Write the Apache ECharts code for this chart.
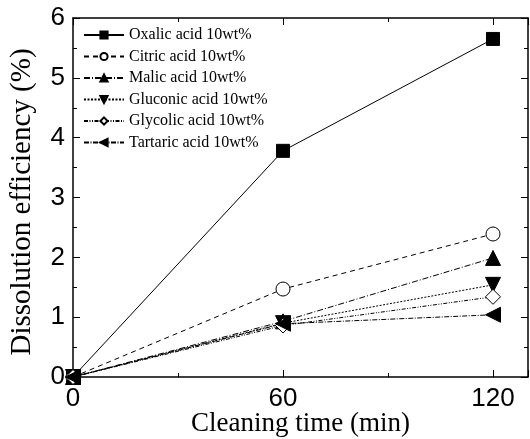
<!DOCTYPE html>
<html>
<head>
<meta charset="utf-8">
<script src="https://cdn.jsdelivr.net/npm/echarts@6/dist/echarts.min.js"></script>
<style>
  html, body { margin: 0; padding: 0; background: #fff; }
  #chart { width: 530px; height: 439px; }
</style>
</head>
<body>
<div id="chart"></div>
<script>
// cleaning time (min)
const times = [0, 60, 120]
const oxalic = [0, 3.78, 5.65]
const citric = [0, 1.47, 2.39]
const malic = [0, 0.93, 1.99]
const gluconic = [0, 0.90, 1.54]
const glycolic = [0, 0.86, 1.34]
const tartaric = [0, 0.89, 1.04]
const names = [
  'Oxalic acid 10wt%',
  'Citric acid 10wt%',
  'Malic acid 10wt%',
  'Gluconic acid 10wt%',
  'Glycolic acid 10wt%',
  'Tartaric acid 10wt%'
]

const serif = '"Liberation Serif", "Times New Roman", serif'
const sans = '"Liberation Sans", Arial, sans-serif'

function pts(vals) {
  return times.map((t, i) => [t, vals[i]])
}

function makeSeries(name, vals, symbol, size, filled, dash, rotate) {
  return {
    name: name,
    type: 'line',
    data: pts(vals),
    symbol: symbol,
    symbolSize: size,
    symbolRotate: rotate || 0,
    showAllSymbol: true,
    itemStyle: {
      color: filled ? '#000' : '#fff',
      borderColor: '#000',
      borderWidth: 1
    },
    lineStyle: { color: '#000', width: 1, type: dash },
    emphasis: { disabled: true },
    animation: false
  }
}

const chart = echarts.init(document.getElementById('chart'))

const axisCommon = {
  axisLine: { show: true, onZero: false, lineStyle: { color: '#000', width: 1.5 } },
  axisTick: { show: true, inside: true, length: 7, lineStyle: { color: '#000', width: 1 } },
  minorTick: { show: true, splitNumber: 2, length: 4, lineStyle: { color: '#000' } },
  splitLine: { show: false }
}

chart.setOption({
  backgroundColor: '#fff',
  grid: { left: 73, right: 2, top: 18, bottom: 62, outerBoundsMode: 'none', containLabel: false },
  legend: {
    orient: 'vertical',
    left: 78,
    top: 22,
    itemWidth: 40,
    itemHeight: 9,
    itemGap: 5.5,
    data: names,
    textStyle: { fontFamily: serif, fontSize: 16, color: '#000' }
  },
  xAxis: [
    Object.assign({
      type: 'value',
      min: 0,
      max: 130,
      interval: 60,
      name: 'Cleaning time (min)',
      nameLocation: 'middle',
      nameGap: 33,
      nameMoveOverlap: false,
      nameTextStyle: { fontFamily: serif, fontSize: 27, color: '#000' },
      axisLabel: { fontFamily: sans, fontSize: 26, color: '#000', margin: 9, showMaxLabel: false }
    }, axisCommon),
    Object.assign({
      type: 'value',
      position: 'top',
      min: 0,
      max: 130,
      interval: 60,
      axisLabel: { show: false }
    }, axisCommon)
  ],
  yAxis: [
    Object.assign({
      type: 'value',
      min: 0,
      max: 6,
      interval: 1,
      name: 'Dissolution efficiency (%)',
      nameLocation: 'middle',
      nameGap: 36,
      nameMoveOverlap: false,
      nameTextStyle: { fontFamily: serif, fontSize: 29, color: '#000', padding: [0, 9, 0, 0] },
      axisLabel: { fontFamily: sans, fontSize: 26, color: '#000', margin: 8 }
    }, axisCommon),
    Object.assign({
      type: 'value',
      position: 'right',
      min: 0,
      max: 6,
      interval: 1,
      axisLabel: { show: false }
    }, axisCommon)
  ],
  series: [
    makeSeries(names[0], oxalic, 'rect', 13, true, 'solid'),
    makeSeries(names[1], citric, 'circle', 14, false, [5, 4]),
    makeSeries(names[2], malic, 'triangle', 15, true, [6, 2, 1, 2]),
    makeSeries(names[3], gluconic, 'triangle', 15, true, [2, 1.5], 180),
    makeSeries(names[4], glycolic, 'diamond', 15, false, [4, 1.5, 1, 1.5, 1, 1.5]),
    makeSeries(names[5], tartaric, 'triangle', 15, true, [5, 1.5, 1, 1.5], 90)
  ]
})
</script>
</body>
</html>
